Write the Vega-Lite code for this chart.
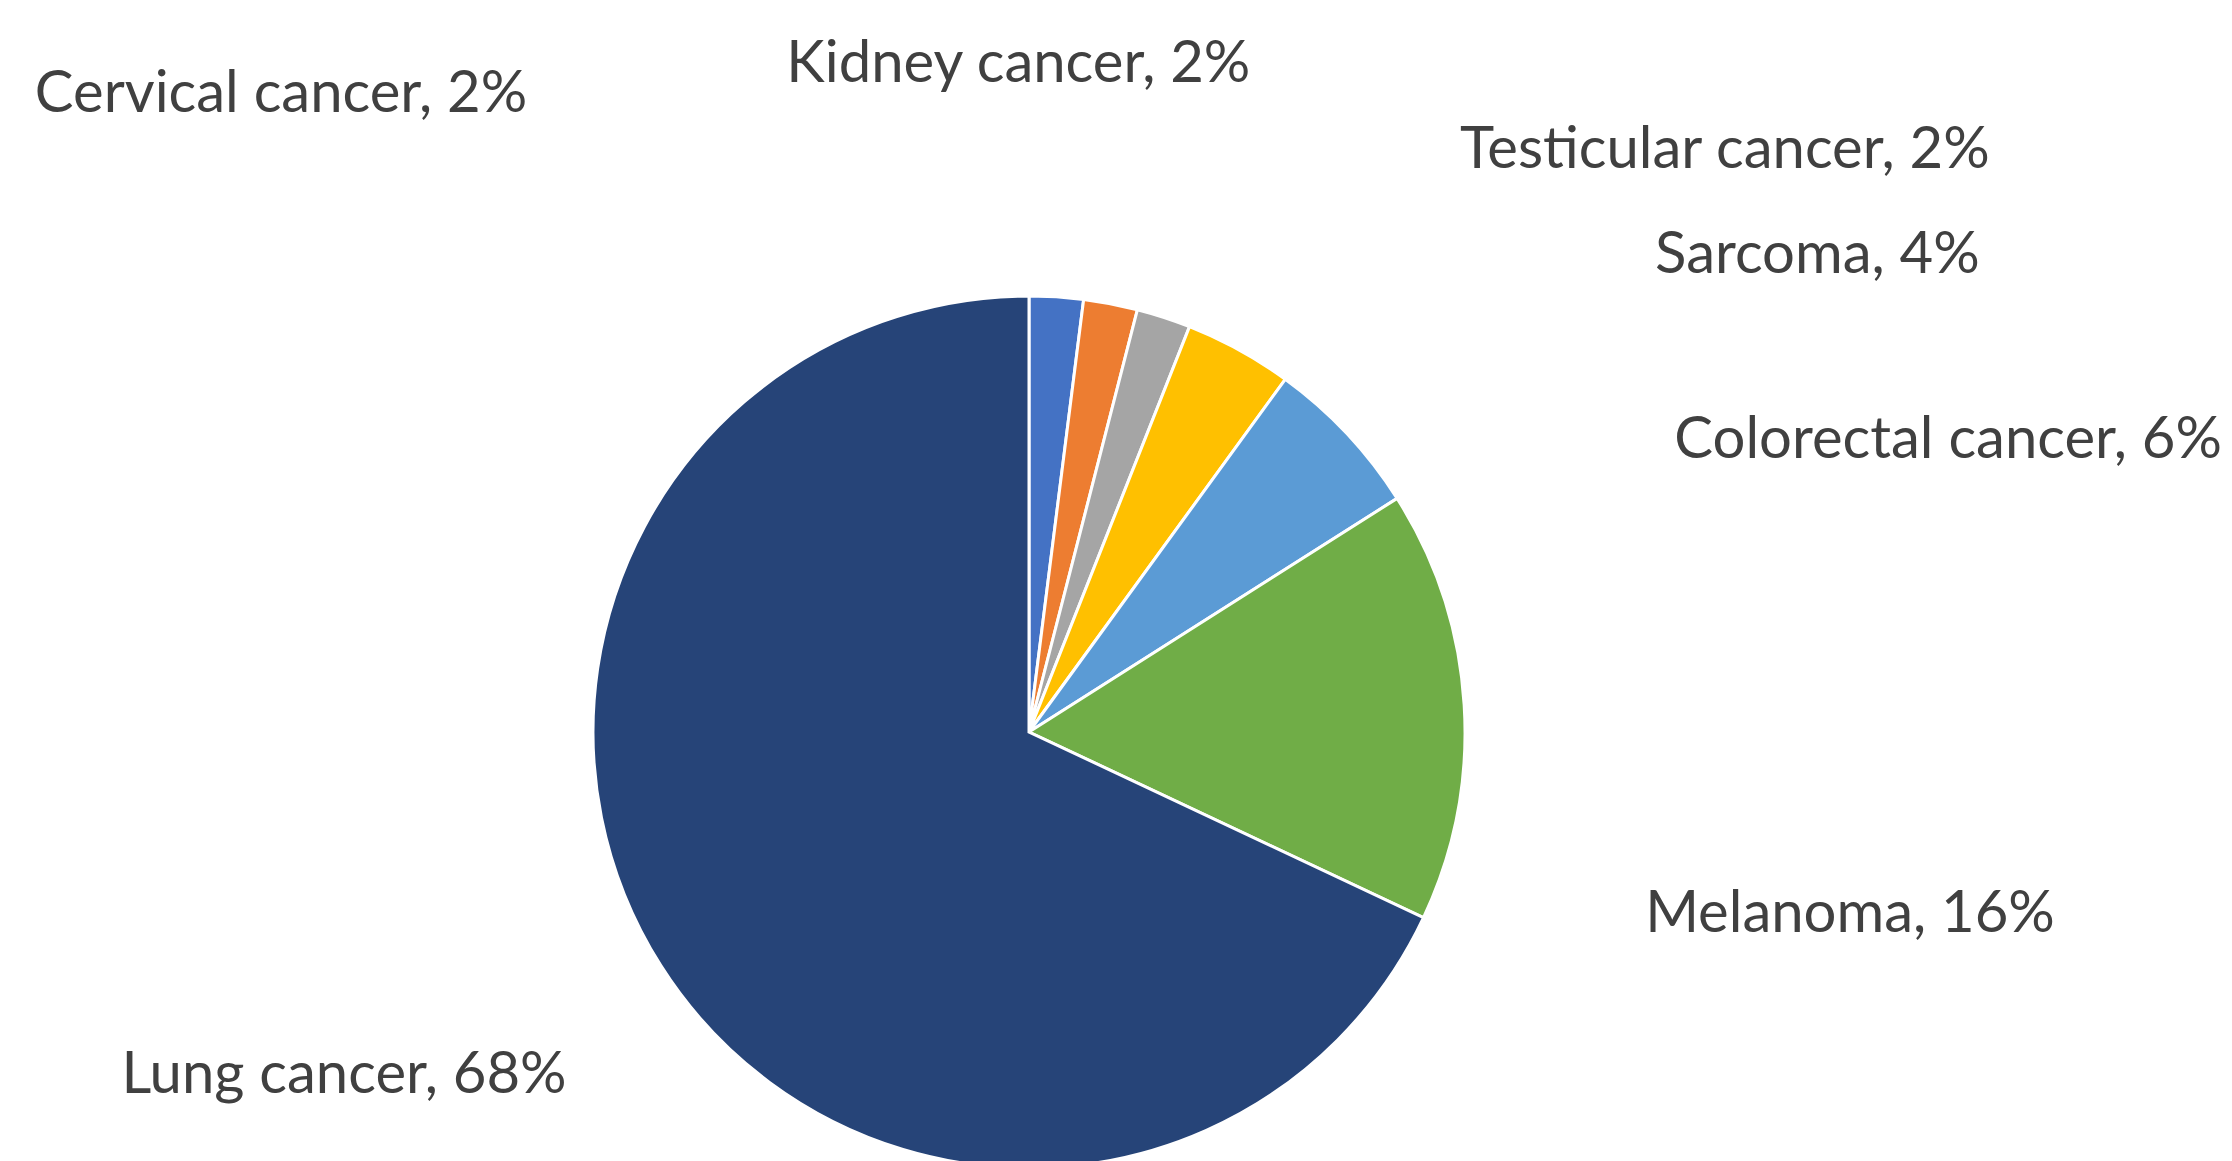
{
  "$schema": "https://vega.github.io/schema/vega-lite/v6.json",
  "width": 2058,
  "height": 858,
  "autosize": "none",
  "padding": {"left": 0, "top": 303, "right": 174, "bottom": 0},
  "background": "white",
  "config": {"view": {"stroke": null}, "text": {"font": "Lato", "fontSize": 58, "color": "#404040", "baseline": "alphabetic", "radius": 434}},
  "data": {
    "values": [
      {"category": "Cervical cancer", "value": 2, "label": "Cervical cancer, 2%"},
      {"category": "Kidney cancer", "value": 2, "label": "Kidney cancer, 2%"},
      {"category": "Testicular cancer", "value": 2, "label": "Testicular cancer, 2%"},
      {"category": "Sarcoma", "value": 4, "label": "Sarcoma, 4%"},
      {"category": "Colorectal cancer", "value": 6, "label": "Colorectal cancer, 6%"},
      {"category": "Melanoma", "value": 16, "label": "Melanoma, 16%"},
      {"category": "Lung cancer", "value": 68, "label": "Lung cancer, 68%"}
    ]
  },
  "encoding": {
    "theta": {"field": "value", "type": "quantitative", "stack": true},
    "order": {"field": "value", "type": "quantitative", "sort": "ascending"},
    "detail": {"field": "category", "type": "nominal"}
  },
  "layer": [
    {
      "mark": {"type": "arc", "outerRadius": 436, "stroke": "white", "strokeWidth": 3},
      "encoding": {
        "color": {
          "field": "category",
          "type": "nominal",
          "scale": {
            "domain": ["Cervical cancer", "Kidney cancer", "Testicular cancer", "Sarcoma", "Colorectal cancer", "Melanoma", "Lung cancer"],
            "range": ["#4472C4", "#ED7D31", "#A5A5A5", "#FFC000", "#5B9BD5", "#70AD47", "#264478"]
          },
          "legend": null
        }
      }
    },
    {
      "mark": {"type": "text", "radius": 434, "align": "right", "baseline": "alphabetic", "dx": -529, "dy": -187, "font": "Lato", "fontSize": 58, "color": "#404040"},
      "encoding": {"text": {"condition": {"test": "datum.category === 'Cervical cancer'", "field": "label", "type": "nominal"}, "value": ""}}
    },
    {
      "mark": {"type": "text", "radius": 434, "align": "center", "baseline": "alphabetic", "dx": -92, "dy": -224, "font": "Lato", "fontSize": 58, "color": "#404040"},
      "encoding": {"text": {"condition": {"test": "datum.category === 'Kidney cancer'", "field": "label", "type": "nominal"}, "value": ""}}
    },
    {
      "mark": {"type": "text", "radius": 434, "align": "left", "baseline": "alphabetic", "dx": 297, "dy": -151, "font": "Lato", "fontSize": 58, "color": "#404040"},
      "encoding": {"text": {"condition": {"test": "datum.category === 'Testicular cancer'", "field": "label", "type": "nominal"}, "value": ""}}
    },
    {
      "mark": {"type": "text", "radius": 434, "align": "left", "baseline": "alphabetic", "dx": 417, "dy": -79, "font": "Lato", "fontSize": 58, "color": "#404040"},
      "encoding": {"text": {"condition": {"test": "datum.category === 'Sarcoma'", "field": "label", "type": "nominal"}, "value": ""}}
    },
    {
      "mark": {"type": "text", "radius": 434, "align": "left", "baseline": "alphabetic", "dx": 329, "dy": 23, "font": "Lato", "fontSize": 58, "color": "#404040"},
      "encoding": {"text": {"condition": {"test": "datum.category === 'Colorectal cancer'", "field": "label", "type": "nominal"}, "value": ""}}
    },
    {
      "mark": {"type": "text", "radius": 434, "align": "left", "baseline": "alphabetic", "dx": 183, "dy": 227, "font": "Lato", "fontSize": 58, "color": "#404040"},
      "encoding": {"text": {"condition": {"test": "datum.category === 'Melanoma'", "field": "label", "type": "nominal"}, "value": ""}}
    },
    {
      "mark": {"type": "text", "radius": 434, "align": "right", "baseline": "alphabetic", "dx": -96, "dy": 128, "font": "Lato", "fontSize": 58, "color": "#404040"},
      "encoding": {"text": {"condition": {"test": "datum.category === 'Lung cancer'", "field": "label", "type": "nominal"}, "value": ""}}
    }
  ]
}
